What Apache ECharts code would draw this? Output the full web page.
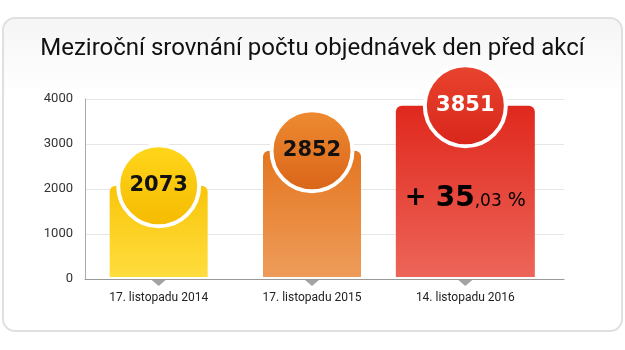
<!DOCTYPE html>
<html lang="cs">
<head>
  <meta charset="utf-8">
  <script src="https://cdn.jsdelivr.net/npm/echarts@6/dist/echarts.min.js"></script>
</head>
<body style="margin: 0; background: #fff">
  <div id="container" style="width: 625px; height: 350px"></div>
  <script>
    // data
    var chartTitle = 'Meziroční srovnání počtu objednávek den před akcí';
    var categories = ['17. listopadu 2014', '17. listopadu 2015', '14. listopadu 2016'];
    var orders = [2073, 2852, 3851];
    var yMin = 0, yMax = 4000, yStep = 1000;

    // styles
    var barWidths = [98, 98, 139];
    var barColors = [['#f9c50a', '#ffdd3e'], ['#e4761f', '#ee9c5b'], ['#e0281d', '#ed6559']];
    var circleColors = [['#ffd71c', '#f5ba00'], ['#ee8c32', '#da6418'], ['#e9452f', '#d8251b']];
    var numberColors = ['#111', '#111', '#fff'];

    // growth of last year vs previous one, e.g. 35,03
    var last = orders.length - 1;
    var growth = ((orders[last] / orders[last - 1] - 1) * 100).toFixed(2).split('.');

    var dom = document.getElementById('container');
    var myChart = echarts.init(dom, null, { renderer: 'canvas' });

    function vGrad(c) {
      return new echarts.graphic.LinearGradient(0, 0, 0, 1, [
        { offset: 0, color: c[0] },
        { offset: 1, color: c[1] }
      ]);
    }

    var option = {
      animation: false,
      textStyle: { fontFamily: 'Roboto' },
      graphic: [{
        type: 'rect',
        left: 2, top: 17, z: -10,
        shape: { width: 619, height: 313, r: 12 },
        style: {
          fill: new echarts.graphic.LinearGradient(0, 0, 0, 1, [
            { offset: 0, color: '#f5f5f5' },
            { offset: 0.25, color: '#ffffff' },
            { offset: 1, color: '#ffffff' }
          ]),
          stroke: '#e0e0e0',
          lineWidth: 2
        }
      }],
      title: {
        text: chartTitle,
        left: 'center',
        top: 32,
        textStyle: { fontSize: 24, fontWeight: 'normal', color: '#111', fontFamily: 'Roboto' }
      },
      grid: [
        { left: 85, top: 99, width: 479, height: 180 },
        { left: 82, top: 99, width: 460, height: 180 }
      ],
      xAxis: [
        {
          gridIndex: 0, type: 'category', data: categories,
          axisLine: { lineStyle: { color: '#999', width: 1 } },
          axisTick: { show: false },
          axisLabel: { show: false }
        },
        {
          gridIndex: 1, type: 'category', data: categories,
          axisLine: { show: false },
          axisTick: { show: false },
          axisLabel: { margin: 13, fontSize: 12, color: '#222', fontFamily: 'Roboto' }
        }
      ],
      yAxis: [
        {
          gridIndex: 0, type: 'value', min: yMin, max: yMax, interval: yStep,
          axisLine: { show: true, lineStyle: { color: '#aaa' } },
          axisTick: { show: false },
          splitLine: { lineStyle: { color: '#e6e6e6' } },
          axisLabel: {
            margin: 12, fontSize: 13, color: '#333', fontFamily: 'Roboto',
            formatter: function (v) { return String(v); }
          }
        },
        { gridIndex: 1, type: 'value', min: yMin, max: yMax, interval: yStep, show: false }
      ],
      series: [
        {
          type: 'custom',
          xAxisIndex: 1, yAxisIndex: 1,
          z: 2,
          silent: true,
          data: orders.map(function (v, i) { return [i, v]; }),
          renderItem: function (params, api) {
            var i = params.dataIndex;
            var top = api.coord([api.value(0), api.value(1)]);
            var base = api.coord([api.value(0), 0]);
            var w = barWidths[i];
            var kids = [
              {
                type: 'rect',
                shape: { x: top[0] - w / 2, y: top[1], width: w, height: base[1] - 2 - top[1], r: [6, 6, 0, 0] },
                style: { fill: vGrad(barColors[i]) }
              },
              {
                type: 'polygon',
                shape: { points: [[base[0] - 7, base[1] + 1], [base[0] + 7, base[1] + 1], [base[0], base[1] + 7]] },
                style: { fill: '#a3a3a3' }
              }
            ];
            if (i === last) {
              kids.push({
                type: 'text',
                z2: 10,
                style: {
                  x: top[0], y: (top[1] + base[1]) / 2 + 6,
                  align: 'center', verticalAlign: 'middle',
                  text: '{p|+ }{b|' + growth[0] + '}{s|,' + growth[1] + '}{q| %}',
                  rich: {
                    p: { fontSize: 26, lineHeight: 26, color: '#fff', fontFamily: 'DejaVu Sans', fontWeight: 'bold', verticalAlign: 'bottom', padding: [0, 0, 1, 0] },
                    b: { fontSize: 28, lineHeight: 28, color: '#fff', fontFamily: 'DejaVu Sans', fontWeight: 'bold', verticalAlign: 'bottom' },
                    s: { fontSize: 17, lineHeight: 17, color: '#fff', fontFamily: 'DejaVu Sans', verticalAlign: 'bottom', padding: [0, 0, 2, 0] },
                    q: { fontSize: 19, lineHeight: 19, color: '#fff', fontFamily: 'DejaVu Sans', verticalAlign: 'bottom', padding: [0, 0, 2, 0] }
                  }
                }
              });
            }
            return { type: 'group', children: kids };
          }
        },
        {
          type: 'scatter',
          xAxisIndex: 1, yAxisIndex: 1,
          z: 3,
          silent: true,
          symbolSize: 81,
          itemStyle: { borderColor: '#fff', borderWidth: 4, opacity: 1 },
          label: {
            show: true, position: 'inside', formatter: '{c}',
            fontSize: 21, fontWeight: 'bold', fontFamily: 'DejaVu Sans'
          },
          data: orders.map(function (v, i) {
            return {
              value: v,
              itemStyle: { color: vGrad(circleColors[i]) },
              label: { color: numberColors[i] }
            };
          })
        }
      ]
    };

    myChart.setOption(option);
    window.addEventListener('resize', myChart.resize);
  </script>
</body>
</html>
